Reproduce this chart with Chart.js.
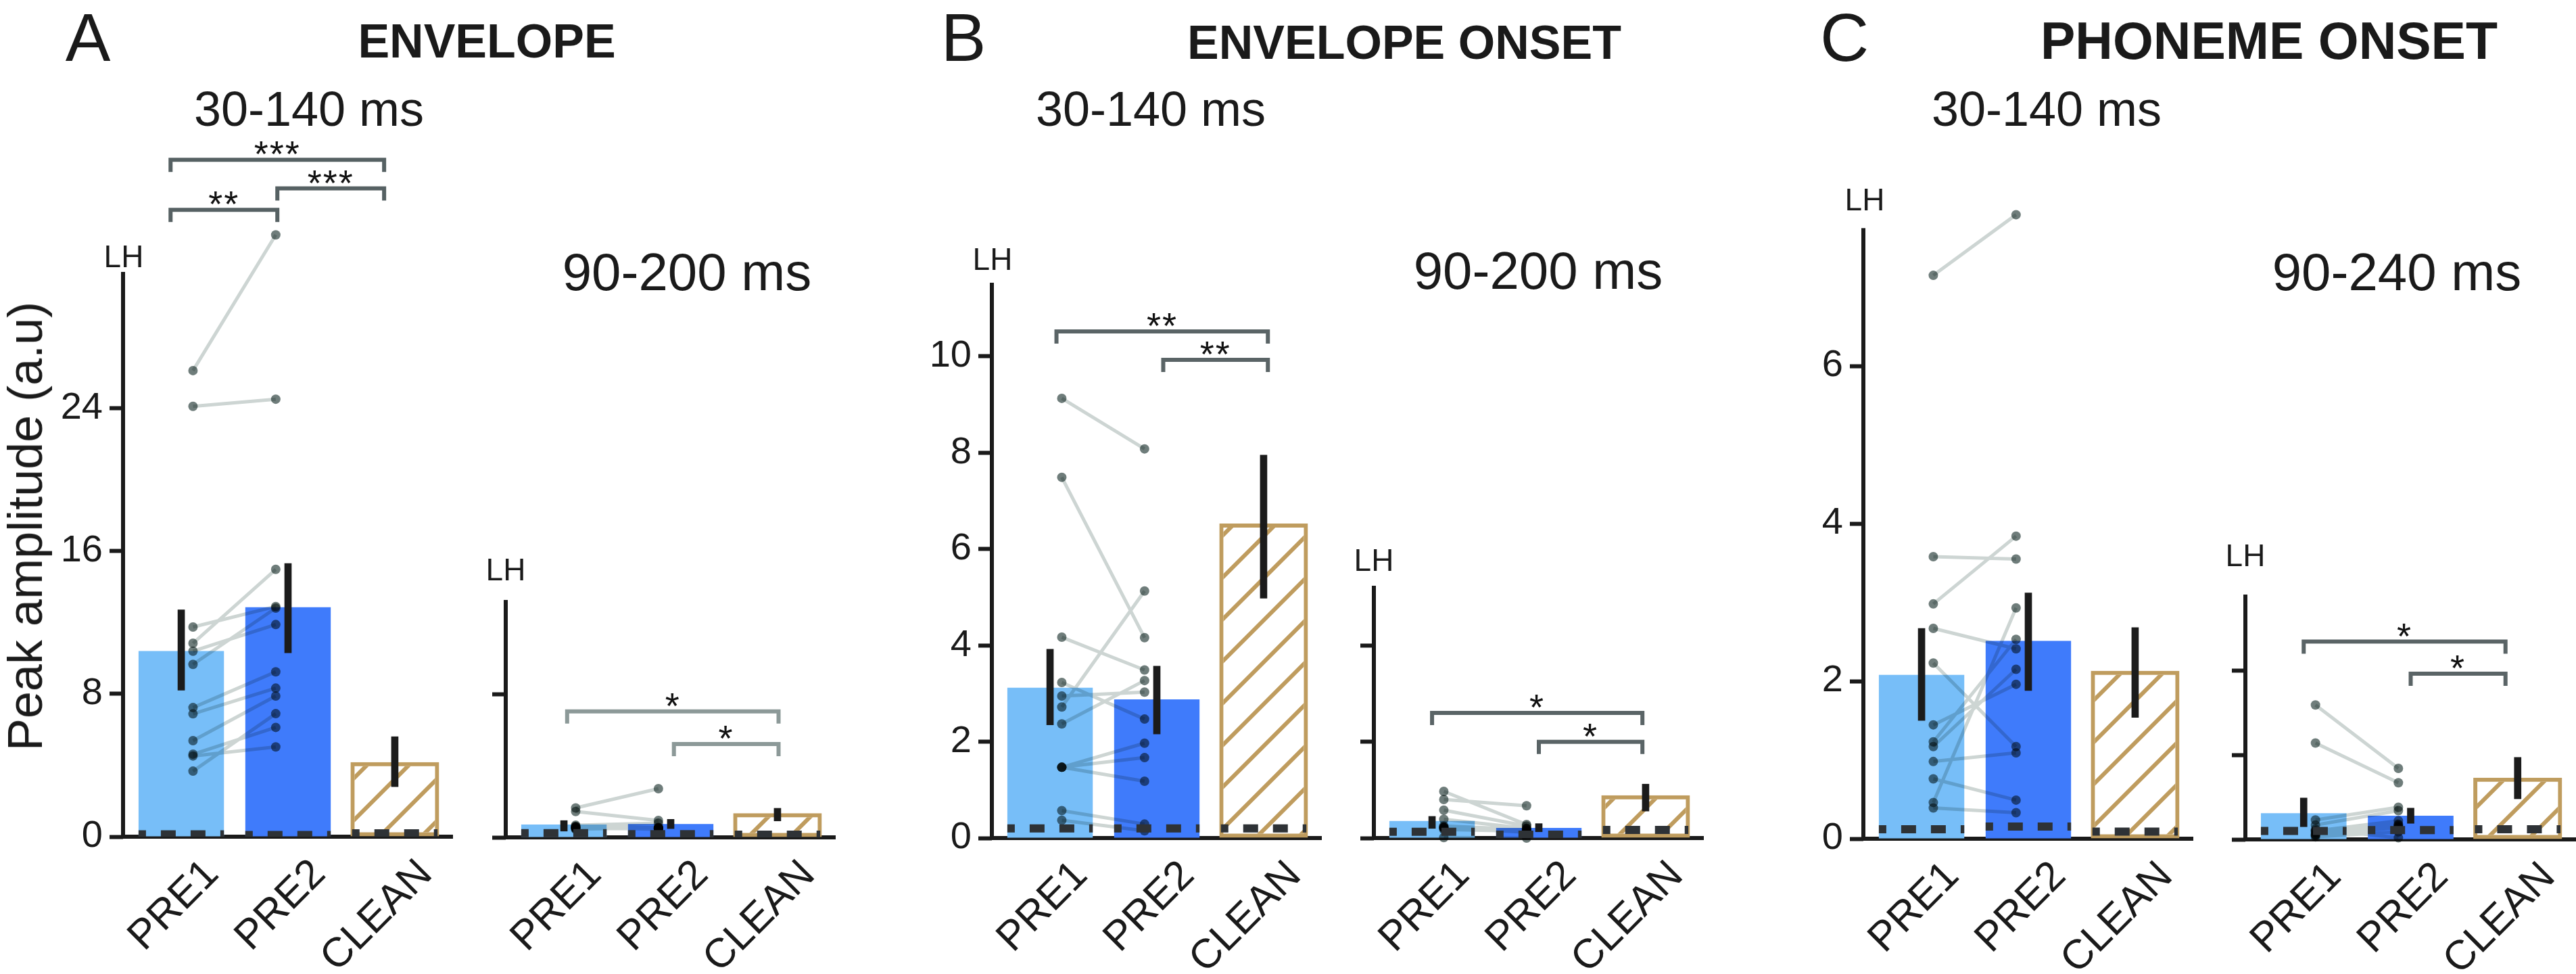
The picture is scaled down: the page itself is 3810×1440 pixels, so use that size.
<!DOCTYPE html>
<html><head><meta charset="utf-8">
<script src="https://cdn.jsdelivr.net/npm/chart.js@4.4.1/dist/chart.umd.min.js"></script>
<style>
html,body{margin:0;padding:0;background:#fff;}
#fig{position:relative;width:3810px;height:1440px;overflow:hidden;background:#fff;}
#fig canvas{position:absolute;top:0;}
.t{position:absolute;white-space:nowrap;line-height:1;font-family:"Liberation Sans",Arial,Helvetica,sans-serif;color:#1a1a1a;z-index:5;}
</style></head><body><div id="fig"></div><script>
// ===== DATA =====
const categories = ['PRE1', 'PRE2', 'CLEAN'];

// A  ENVELOPE, 30-140 ms
const envEarlyTicks = [0, 8, 16, 24];
const envEarlyMeans = [10.4, 12.85, 4.18];
const envEarlyErrLo = [8.2, 10.3, 2.8];
const envEarlyErrHi = [12.7, 15.3, 5.6];
const envEarlyPre1 = [26.1, 24.1, 11.74, 10.83, 10.39, 9.65, 7.23, 6.88, 5.38, 4.62, 4.52, 3.67];
const envEarlyPre2 = [33.7, 24.5, 12.89, 14.97, 11.88, 12.8, 9.23, 8.32, 7.88, 6.12, 5.03, 6.89];
const envEarlyNoise = [0.13, 0.09, 0.19];
const envEarlySig = [[0, 2, 37.9, '***'], [1, 2, 36.3, '***'], [0, 1, 35.1, '**']];

// A  ENVELOPE, 90-200 ms
const envLateTicks = [0, 8];
const envLateMeans = [0.72, 0.75, 1.35];
const envLateErrLo = [0.35, 0.49, 0.92];
const envLateErrHi = [0.94, 1.01, 1.63];
const envLatePre1 = [1.65, 1.45, 0.68, 0.62, 0.6, 0.58, 0.55, 0.52, 0.5, 0.5, 0.45, 0.54];
const envLatePre2 = [2.73, 0.95, 0.8, 0.55, 0.5, 0.5, 0.45, 0.5, 0.48, 0.52, 0.55, 0.47];
const envLateNoise = [0.24, 0.18, 0.15];
const envLateSig = [[0, 2, 7.06, '*'], [1, 2, 5.23, '*']];

// B  ENVELOPE ONSET, 30-140 ms
const onsEarlyTicks = [0, 2, 4, 6, 8, 10];
const onsEarlyMeans = [3.12, 2.88, 6.53];
const onsEarlyErrLo = [2.35, 2.16, 4.98];
const onsEarlyErrHi = [3.92, 3.57, 7.95];
const onsEarlyPre1 = [9.13, 7.49, 4.17, 3.23, 2.95, 2.72, 2.37, 1.47, 1.47, 1.47, 0.57, 0.37];
const onsEarlyPre2 = [8.08, 4.16, 3.49, 2.47, 3.03, 5.13, 3.27, 1.97, 1.67, 1.18, 0.29, 0.15];
const onsEarlyNoise = [0.2, 0.2, 0.2];
const onsEarlySig = [[0, 2, 10.52, '**'], [1, 2, 9.93, '**']];

// B  ENVELOPE ONSET, 90-200 ms
const onsLateTicks = [0, 2, 4];
const onsLateMeans = [0.355, 0.21, 0.89];
const onsLateErrLo = [0.2, 0.13, 0.56];
const onsLateErrHi = [0.45, 0.3, 1.12];
const onsLatePre1 = [0.97, 0.80, 0.58, 0.39, 0.21, 0.01, 0.25, 0.22, 0.2, 0.23, 0.18, 0.22];
const onsLatePre2 = [0.28, 0.67, 0.25, 0.2, 0.15, 0.0, 0.18, 0.16, 0.17, 0.2, 0.14, 0.12];
const onsLateNoise = [0.13, 0.07, 0.17];
const onsLateSig = [[0, 2, 2.6, '*'], [1, 2, 2.0, '*']];

// C  PHONEME ONSET, 30-140 ms
const phoEarlyTicks = [0, 2, 4, 6];
const phoEarlyMeans = [2.08, 2.51, 2.13];
const phoEarlyErrLo = [1.5, 1.88, 1.54];
const phoEarlyErrHi = [2.67, 3.12, 2.68];
const phoEarlyPre1 = [7.15, 3.58, 2.98, 2.67, 2.23, 1.445, 1.23, 1.17, 0.98, 0.76, 0.46, 0.39];
const phoEarlyPre2 = [7.92, 3.55, 3.84, 2.41, 1.17, 1.96, 2.53, 2.15, 1.09, 0.49, 2.93, 0.33];
const phoEarlyNoise = [0.12, 0.155, 0.09];
const phoEarlySig = [];

// C  PHONEME ONSET, 90-240 ms
const phoLateTicks = [0, 1, 2];
const phoLateMeans = [0.31, 0.28, 0.73];
const phoLateErrLo = [0.15, 0.19, 0.48];
const phoLateErrHi = [0.49, 0.37, 0.97];
const phoLatePre1 = [1.59, 1.14, 0.23, 0.17, 0.10, 0.03, 0.12, 0.08, 0.06, 0.1, 0.05, 0.05];
const phoLatePre2 = [0.84, 0.67, 0.38, 0.34, 0.22, 0.09, 0.02, 0.18, 0.15, 0.17, 0.16, 0.14];
const phoLateNoise = [0.1, 0.11, 0.12];
const phoLateSig = [[0, 2, 2.34, '*'], [1, 2, 1.96, '*']];

// ===== LAYOUT / STYLE =====
const H = 1440;
const FONT = '"Liberation Sans", Arial, Helvetica, sans-serif';
const COL = {pre1:'#77bef8', pre2:'#3f7bfb', gold:'#bf9c5e', subj:'#cdd5d3', pt:'#6f7d7b',
             noise:'#2e3236', err:'#1b1b1b', axis:'#1a1a1a'};
const X1 = 0.11, X2 = 0.885;

// top = pixel top of plotting region, ymax = value at that pixel, spineMax = value where the drawn y-axis line ends
const panels = [
 {left:0,    right:670,  spine:182,  top:300, zero:1237, ymax:35.49, spineMax:31.63, labels:true,  br:'#566163', sL:-0.1, sR:-0.1,
  ticks:envEarlyTicks, means:envEarlyMeans, lo:envEarlyErrLo, hi:envEarlyErrHi, p1:envEarlyPre1, p2:envEarlyPre2, noise:envEarlyNoise, sig:envEarlySig},
 {left:670,  right:1236, spine:748,  top:887, zero:1238, ymax:13.3,  spineMax:13.3,  labels:false, br:'#8c9998', sL:0.03, sR:0.01,
  ticks:envLateTicks, means:envLateMeans, lo:envLateErrLo, hi:envLateErrHi, p1:envLatePre1, p2:envLatePre2, noise:envLateNoise, sig:envLateSig},
 {left:1236, right:1955, spine:1467, top:418, zero:1239, ymax:11.53, spineMax:11.53, labels:true,  br:'#5a6466', sL:0.06, sR:0.04,
  ticks:onsEarlyTicks, means:onsEarlyMeans, lo:onsEarlyErrLo, hi:onsEarlyErrHi, p1:onsEarlyPre1, p2:onsEarlyPre2, noise:onsEarlyNoise, sig:onsEarlySig},
 {left:1955, right:2520, spine:2032, top:866, zero:1239, ymax:5.24,  spineMax:5.24,  labels:false, br:'#5a6466', sL:0.0, sR:-0.03,
  ticks:onsLateTicks, means:onsLateMeans, lo:onsLateErrLo, hi:onsLateErrHi, p1:onsLatePre1, p2:onsLatePre2, noise:onsLateNoise, sig:onsLateSig},
 {left:2520, right:3244, spine:2756, top:290, zero:1240, ymax:8.155, spineMax:7.75,  labels:true,  br:'#5a6466', sL:0, sR:0,
  ticks:phoEarlyTicks, means:phoEarlyMeans, lo:phoEarlyErrLo, hi:phoEarlyErrHi, p1:phoEarlyPre1, p2:phoEarlyPre2, noise:phoEarlyNoise, sig:phoEarlySig},
 {left:3244, right:3810, spine:3321, top:879, zero:1241, ymax:2.896, spineMax:2.896, labels:false, br:'#5a6466', sL:0, sR:-0.114,
  ticks:phoLateTicks, means:phoLateMeans, lo:phoLateErrLo, hi:phoLateErrHi, p1:phoLatePre1, p2:phoLatePre2, noise:phoLateNoise, sig:phoLateSig},
];

const texts = [
 ['A', 130, 90, 100, 400], ['ENVELOPE', 720, 85, 70, 700], ['30-140 ms', 457, 186, 72, 400],
 ['LH', 183, 395, 46, 400], ['90-200 ms', 1016, 429, 78, 400], ['LH', 748, 858, 46, 400],
 ['B', 1425, 90, 100, 400], ['ENVELOPE ONSET', 2077, 87, 70, 700], ['30-140 ms', 1702, 186, 72, 400],
 ['LH', 1468, 399, 46, 400], ['90-200 ms', 2275, 427, 78, 400], ['LH', 2032, 844, 46, 400],
 ['C', 2728, 90, 100, 400], ['PHONEME ONSET', 3356, 87, 77, 700], ['30-140 ms', 3027, 186, 72, 400],
 ['LH', 2758, 311, 46, 400], ['90-240 ms', 3545, 429, 78, 400], ['LH', 3321, 837, 46, 400],
];

const fig = document.getElementById('fig');
texts.forEach(([s, cx, base, size, w]) => {
  const d = document.createElement('div');
  d.className = 't'; d.textContent = s;
  d.style.fontSize = size + 'px'; d.style.fontWeight = w;
  d.style.left = cx + 'px'; d.style.top = (base - 0.8465 * size) + 'px';
  d.style.transform = 'translateX(-50%)';
  fig.appendChild(d);
});
(function(){
  const d = document.createElement('div');
  d.className = 't'; d.textContent = 'Peak amplitude (a.u)';
  d.style.fontSize = '72px';
  d.style.left = '37px'; d.style.top = '778px';
  d.style.transform = 'translate(-50%,-50%) rotate(-90deg)';
  fig.appendChild(d);
})();

function makeHatch(){
  const s = 62, c = document.createElement('canvas'); c.width = s; c.height = s;
  const g = c.getContext('2d');
  g.strokeStyle = COL.gold; g.lineWidth = 6;
  g.beginPath();
  g.moveTo(-6, s + 6); g.lineTo(s + 6, -6);
  g.moveTo(-6, 6); g.lineTo(6, -6);
  g.moveTo(s - 6, s + 6); g.lineTo(s + 6, s - 6);
  g.stroke();
  return g.createPattern(c, 'repeat');
}
const hatch = makeHatch();

const blendPlugin = {
  id: 'blend',
  beforeDatasetDraw(chart, args){ const ds = chart.data.datasets[args.index]; if (ds.blend){ chart.ctx.save(); chart.ctx.globalCompositeOperation = ds.blend; } },
  afterDatasetDraw(chart, args){ const ds = chart.data.datasets[args.index]; if (ds.blend){ chart.ctx.restore(); } }
};
const bracketPlugin = {
  id: 'brackets',
  afterDatasetsDraw(chart, args, o){
    const {ctx} = chart; const xs = chart.scales.x, ys = chart.scales.y;
    ctx.save();
    (o.items || []).forEach(([i, j, lvl, lab]) => {
      const x1 = xs.getPixelForValue(i + o.sL), x2 = xs.getPixelForValue(j + o.sR), yy = ys.getPixelForValue(lvl);
      ctx.strokeStyle = o.color; ctx.lineWidth = 6; ctx.lineJoin = 'miter'; ctx.lineCap = 'butt';
      ctx.beginPath(); ctx.moveTo(x1, yy + 18); ctx.lineTo(x1, yy); ctx.lineTo(x2, yy); ctx.lineTo(x2, yy + 18); ctx.stroke();
      ctx.fillStyle = '#111'; ctx.font = '54px ' + FONT; ctx.textAlign = 'center'; ctx.textBaseline = 'alphabetic';
      try { ctx.letterSpacing = '2px'; } catch (e) {}
      ctx.fillText(lab, (x1 + x2) / 2, yy + 10);
    });
    ctx.restore();
  }
};
// y-axis spine drawn from 0 up to spineMax (points may extend above it)
const spinePlugin = {
  id: 'spine',
  afterDraw(chart, args, o){
    const {ctx} = chart; const ys = chart.scales.y;
    const x = chart.chartArea.left;
    ctx.save();
    ctx.strokeStyle = COL.axis; ctx.lineWidth = 6; ctx.lineCap = 'butt';
    ctx.beginPath(); ctx.moveTo(x, ys.getPixelForValue(0) + 3); ctx.lineTo(x, ys.getPixelForValue(o.max)); ctx.stroke();
    ctx.restore();
  }
};

panels.forEach(p => {
  const w = p.right - p.left;
  const cv = document.createElement('canvas');
  cv.width = w; cv.height = H;
  cv.style.left = p.left + 'px'; cv.style.width = w + 'px'; cv.style.height = H + 'px';
  fig.appendChild(cv);

  const lines = [], pts = [];
  p.p1.forEach((v, k) => {
    lines.push({x: X1, y: v}, {x: X2, y: p.p2[k]}, {x: 0.5, y: null});
    pts.push({x: X1, y: v}, {x: X2, y: p.p2[k]});
  });
  const noise = [];
  p.noise.forEach((v, i) => { noise.push({x: i - 0.4, y: v}, {x: i + 0.4, y: v}, {x: i + 0.5, y: null}); });
  const errs = p.lo.map((lo, i) => ({x: i, y: [lo, p.hi[i]]}));

  new Chart(cv, {
    type: 'bar',
    data: { datasets: [
      {type:'bar', data:[{x:0, y:p.means[0]}, {x:1, y:p.means[1]}], backgroundColor:[COL.pre1, COL.pre2], borderWidth:0,
       grouped:false, categoryPercentage:1, barPercentage:0.8, order:6},
      {type:'bar', data:[{x:2, y:p.means[2]}], backgroundColor:hatch, borderColor:COL.gold, borderWidth:6, borderSkipped:false,
       grouped:false, categoryPercentage:1, barPercentage:0.83, order:6},
      {type:'line', data:lines, borderColor:COL.subj, borderWidth:5, pointRadius:0, spanGaps:false, clip:false, blend:'multiply', order:5},
      {type:'scatter', data:pts, pointRadius:7, pointBackgroundColor:COL.pt, backgroundColor:COL.pt, pointBorderWidth:0, borderWidth:0, clip:false, blend:'multiply', order:4},
      {type:'line', data:noise, borderColor:COL.noise, borderWidth:12, borderDash:[22, 22], borderDashOffset:11, pointRadius:0, spanGaps:false, order:3},
      {type:'bar', data:errs, backgroundColor:COL.err, borderWidth:0, grouped:false, categoryPercentage:1, barPercentage:1, maxBarThickness:10, order:1},
    ]},
    options: {
      responsive:false, animation:false, devicePixelRatio:1, events:[],
      layout:{padding:{left:0, right:0, top:p.top, bottom:0}, autoPadding:false},
      plugins:{legend:{display:false}, tooltip:{enabled:false},
               brackets:{items:p.sig, color:p.br, sL:p.sL, sR:p.sR},
               spine:{max:p.spineMax}},
      scales:{
        x:{type:'linear', min:-0.545, max:2.545, offset:false, z:1,
           grid:{display:true, drawOnChartArea:false, drawTicks:false},
           border:{display:true, color:COL.axis, width:6},
           ticks:{autoSkip:false, minRotation:45, maxRotation:45, padding:20, labelOffset:46,
                  font:{family:FONT, size:61}, color:COL.axis, callback:(v) => categories[v] ?? ''},
           afterBuildTicks:(s) => { s.ticks = categories.map((c, i) => ({value:i})); },
           afterFit:(s) => { s.height = H - p.zero; s.paddingLeft = 0; s.paddingRight = 0; }},
        y:{type:'linear', min:0, max:p.ymax, z:1,
           grid:{display:true, drawOnChartArea:false, drawTicks:true, tickLength:20, tickWidth:6, tickColor:COL.axis},
           border:{display:false},
           ticks:{padding:10, font:{family:FONT, size:56}, color:COL.axis, callback:(v) => p.labels ? String(v) : ''},
           afterBuildTicks:(s) => { s.ticks = p.ticks.map(v => ({value:v})); },
           afterFit:(s) => { s.width = p.spine - p.left; s.paddingTop = 0; s.paddingBottom = 0; }}
      }
    },
    plugins:[blendPlugin, bracketPlugin, spinePlugin]
  });
});
</script></body></html>
